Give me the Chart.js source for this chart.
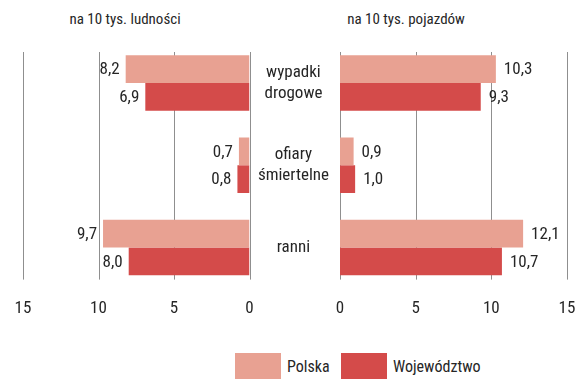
<!DOCTYPE html>
<html lang="pl">
<head>
<meta charset="UTF-8" />
<title>Wypadki drogowe</title>
<script src="https://cdn.jsdelivr.net/npm/chart.js"></script>
<style>
  html, body { margin: 0; padding: 0; background: #fff; }
  #wrap { position: relative; width: 578px; height: 379px; overflow: hidden;
    font-family: 'Roboto Condensed', sans-serif; color: #262626; }
  .box { position: absolute; }
  .title { position: absolute; top: 8px; font-size: 15px; line-height: 22px; white-space: nowrap; transform: translateX(-50%); }
  .sw { position: absolute; top: 353px; width: 46px; height: 28px; }
  .lb { position: absolute; top: 356px; font-size: 16px; line-height: 22px; white-space: nowrap; }
</style>
</head>
<body>
<div id="wrap">
  <div class="title" style="left:125px">na 10 tys. ludności</div>
  <div class="title" style="left:406px">na 10 tys. pojazdów</div>
  <div class="box" style="left:0;top:0;width:260px;height:321px"><canvas id="leftChart"></canvas></div>
  <div class="box" style="left:250px;top:0;width:328px;height:321px"><canvas id="rightChart"></canvas></div>
  <div id="legend"></div>
</div>
<script>
  // kategorie i wartości
  const categories = [['wypadki', 'drogowe'], ['ofiary', 'śmiertelne'], ['ranni']];
  const seriesNames = ['Polska', 'Województwo'];
  const seriesColors = ['#E8A192', '#D44B4A'];
  const perPopulationPolska = [8.2, 0.7, 9.7];
  const perPopulationRegion = [6.9, 0.8, 8.0];
  const perVehiclesPolska = [10.3, 0.9, 12.1];
  const perVehiclesRegion = [9.3, 1.0, 10.7];
  const axisTicks = [0, 5, 10, 15];

  const FONT = "'Roboto Condensed', sans-serif";
  const TEXT = '#262626';
  Chart.defaults.font.family = FONT;
  Chart.defaults.color = TEXT;

  const fmt = v => v.toFixed(1).replace('.', ',');

  // pionowe linie siatki, nieco krótsze niż obszar wykresu
  const gridLines = {
    id: 'gridLines',
    beforeDatasetsDraw(chart) {
      const { ctx, chartArea, scales: { x } } = chart;
      ctx.save();
      ctx.strokeStyle = '#8f8f8f';
      ctx.lineWidth = 1;
      axisTicks.forEach(t => {
        const px = Math.round(x.getPixelForValue(t)) + 0.5;
        ctx.beginPath();
        ctx.moveTo(px, chartArea.top + 10);
        ctx.lineTo(px, chartArea.bottom - 9);
        ctx.stroke();
      });
      ctx.restore();
    }
  };

  // etykiety wartości przy końcach słupków
  const valueLabels = {
    id: 'valueLabels',
    afterDatasetsDraw(chart, args, opts) {
      const { ctx } = chart;
      ctx.save();
      ctx.font = '17px ' + FONT;
      ctx.fillStyle = TEXT;
      ctx.textBaseline = 'middle';
      ctx.textAlign = opts.side === 'left' ? 'right' : 'left';
      chart.data.datasets.forEach((ds, i) => {
        chart.getDatasetMeta(i).data.forEach((bar, j) => {
          const x = opts.side === 'left' ? bar.x - 6 : bar.x + 8;
          ctx.fillText(fmt(ds.data[j]), x, bar.y + 1);
        });
      });
      ctx.restore();
    }
  };

  function makeDatasets(a, b) {
    return [a, b].map((data, i) => ({
      label: seriesNames[i],
      data: data,
      backgroundColor: seriesColors[i],
      barPercentage: 1,
      categoryPercentage: 0.675
    }));
  }

  const xScale = reverse => ({
    min: 0, max: 15, reverse: reverse,
    grid: { display: false },
    border: { display: false },
    afterBuildTicks: s => { s.ticks = axisTicks.map(v => ({ value: v })); },
    afterFit: s => { s.paddingLeft = 0; s.paddingRight = 0; },
    ticks: { padding: 2, font: { size: 17 }, color: TEXT }
  });

  new Chart(document.getElementById('leftChart'), {
    type: 'bar',
    data: { labels: categories, datasets: makeDatasets(perPopulationPolska, perPopulationRegion) },
    options: {
      indexAxis: 'y',
      responsive: true,
      maintainAspectRatio: false,
      animation: false,
      layout: { padding: { left: 23, right: 10.5, top: 42, bottom: 0 } },
      plugins: { legend: { display: false }, tooltip: { enabled: false }, valueLabels: { side: 'left' } },
      scales: {
        x: xScale(true),
        y: { display: false }
      }
    },
    plugins: [gridLines, valueLabels]
  });

  new Chart(document.getElementById('rightChart'), {
    type: 'bar',
    data: { labels: categories, datasets: makeDatasets(perVehiclesPolska, perVehiclesRegion) },
    options: {
      indexAxis: 'y',
      responsive: true,
      maintainAspectRatio: false,
      animation: false,
      layout: { padding: { left: 0, right: 11, top: 42, bottom: 0 } },
      plugins: { legend: { display: false }, tooltip: { enabled: false }, valueLabels: { side: 'right' } },
      scales: {
        x: xScale(false),
        y: {
          grid: { display: false },
          border: { display: false },
          afterFit: s => { s.width = 90; },
          ticks: { crossAlign: 'center', padding: 3, font: { size: 17, lineHeight: 1.2 }, color: TEXT }
        }
      }
    },
    plugins: [gridLines, valueLabels]
  });

  // legenda pod wykresem
  const legend = document.getElementById('legend');
  const swatchLeft = [235, 341];
  seriesNames.forEach((name, i) => {
    const sw = document.createElement('div');
    sw.className = 'sw';
    sw.style.left = swatchLeft[i] + 'px';
    sw.style.background = seriesColors[i];
    const lb = document.createElement('div');
    lb.className = 'lb';
    lb.style.left = (swatchLeft[i] + 52) + 'px';
    lb.textContent = name;
    legend.appendChild(sw);
    legend.appendChild(lb);
  });
</script>
</body>
</html>
